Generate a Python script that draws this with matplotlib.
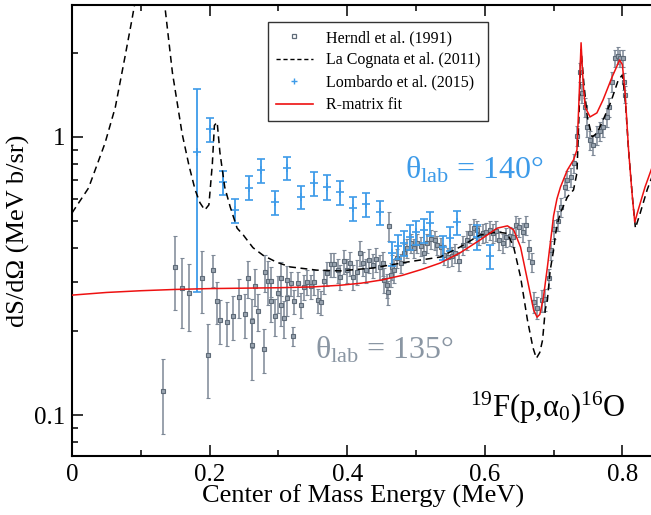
import matplotlib
matplotlib.use("Agg")
import matplotlib.pyplot as plt
import numpy as np
from matplotlib.ticker import FixedLocator, FuncFormatter, MultipleLocator
from matplotlib.lines import Line2D

plt.rcParams['font.family'] = ['Liberation Serif', 'DejaVu Serif']
plt.rcParams['mathtext.fontset'] = 'custom'
plt.rcParams['mathtext.rm'] = 'Liberation Serif'
plt.rcParams['mathtext.it'] = 'Liberation Serif:italic'

# ---------------- data ----------------
herndl_E = [0.133, 0.150, 0.160, 0.170, 0.189, 0.198, 0.205, 0.211, 0.215, 0.225,
            0.234, 0.243, 0.252, 0.256, 0.262, 0.262, 0.266, 0.271, 0.279, 0.281,
            0.285, 0.289, 0.289, 0.295, 0.300, 0.304, 0.304, 0.308, 0.313, 0.313,
            0.318, 0.321, 0.323, 0.328, 0.333, 0.337, 0.342, 0.347, 0.352, 0.357,
            0.362, 0.367, 0.371, 0.376, 0.381, 0.386, 0.390, 0.396, 0.400, 0.404,
            0.409, 0.414, 0.419, 0.423, 0.428, 0.432, 0.437, 0.442, 0.447, 0.452,
            0.454, 0.458, 0.460, 0.461, 0.463, 0.465, 0.468, 0.473, 0.478, 0.483,
            0.487, 0.493, 0.497, 0.502, 0.508, 0.512, 0.516, 0.522, 0.527, 0.531,
            0.537, 0.541, 0.546, 0.553, 0.557, 0.563, 0.569, 0.574, 0.578, 0.584,
            0.589, 0.592, 0.598, 0.602, 0.607, 0.612, 0.617, 0.621, 0.627, 0.631,
            0.636, 0.641, 0.646, 0.650, 0.656, 0.660, 0.664, 0.669, 0.672, 0.676,
            0.683, 0.688, 0.693, 0.697, 0.701, 0.706, 0.711, 0.716, 0.720, 0.725,
            0.729, 0.734, 0.738, 0.741, 0.745, 0.749, 0.753, 0.758, 0.763, 0.768,
            0.772, 0.777, 0.780, 0.785, 0.790, 0.793, 0.797, 0.801, 0.803, 0.804]
herndl_val = [0.122, 0.340, 0.286, 0.275, 0.311, 0.164, 0.332, 0.257, 0.219, 0.216,
              0.227, 0.266, 0.231, 0.311, 0.179, 0.218, 0.291, 0.237, 0.173, 0.327,
              0.303, 0.303, 0.257, 0.227, 0.275, 0.311, 0.249, 0.223, 0.306, 0.264,
              0.298, 0.192, 0.257, 0.298, 0.249, 0.289, 0.301, 0.291, 0.301, 0.259,
              0.255, 0.303, 0.324, 0.349, 0.349, 0.332, 0.314, 0.358, 0.332, 0.352,
              0.314, 0.327, 0.383, 0.352, 0.332, 0.361, 0.346, 0.364, 0.341, 0.352,
              0.306, 0.293, 0.277, 0.479, 0.320, 0.341, 0.332, 0.367, 0.352, 0.383,
              0.399, 0.416, 0.399, 0.416, 0.405, 0.383, 0.416, 0.430, 0.426, 0.409,
              0.402, 0.377, 0.370, 0.373, 0.383, 0.358, 0.409, 0.426, 0.450, 0.470,
              0.463, 0.444, 0.450, 0.455, 0.463, 0.450, 0.460, 0.426, 0.416, 0.437,
              0.440, 0.437, 0.482, 0.474, 0.455, 0.482, 0.395, 0.355, 0.255, 0.243,
              0.259, 0.261, 0.311, 0.392, 0.466, 0.500, 0.560, 0.661, 0.700, 0.718,
              0.806, 1.010, 1.710, 1.440, 1.280, 1.090, 0.976, 0.936, 1.017, 1.051,
              1.086, 1.180, 1.280, 1.580, 1.920, 1.960, 1.920, 1.920, 1.580, 1.420]
herndl_relerr = [0.30, 0.30, 0.28, 0.27, 0.25, 0.30, 0.13, 0.17, 0.18, 0.18,
                 0.18, 0.16, 0.18, 0.15, 0.25, 0.20, 0.15, 0.15, 0.18, 0.15,
                 0.18, 0.12, 0.16, 0.15, 0.15, 0.14, 0.16, 0.15, 0.12, 0.14,
                 0.10, 0.08, 0.10, 0.10, 0.10, 0.10, 0.10, 0.10, 0.10, 0.10,
                 0.10, 0.10, 0.10, 0.10, 0.10, 0.10, 0.10, 0.10, 0.10, 0.10,
                 0.10, 0.10, 0.10, 0.10, 0.10, 0.10, 0.10, 0.10, 0.10, 0.10,
                 0.10, 0.10, 0.10, 0.12, 0.10, 0.10, 0.10, 0.08, 0.08, 0.08,
                 0.08, 0.08, 0.08, 0.08, 0.08, 0.08, 0.08, 0.08, 0.08, 0.08,
                 0.08, 0.08, 0.08, 0.08, 0.08, 0.08, 0.08, 0.08, 0.08, 0.08,
                 0.08, 0.08, 0.08, 0.08, 0.08, 0.08, 0.08, 0.08, 0.08, 0.08,
                 0.08, 0.08, 0.08, 0.08, 0.08, 0.08, 0.08, 0.08, 0.09, 0.09,
                 0.09, 0.09, 0.08, 0.08, 0.08, 0.08, 0.08, 0.08, 0.08, 0.08,
                 0.08, 0.08, 0.08, 0.08, 0.08, 0.08, 0.08, 0.08, 0.08, 0.08,
                 0.08, 0.08, 0.08, 0.08, 0.07, 0.07, 0.07, 0.07, 0.07, 0.07]

lomb_E = [0.182, 0.200, 0.220, 0.237, 0.257, 0.275, 0.295, 0.313, 0.333, 0.352,
          0.371, 0.390, 0.409, 0.428, 0.447, 0.465, 0.474, 0.483, 0.492, 0.500,
          0.512, 0.520, 0.540, 0.550, 0.560, 0.588, 0.607]
lomb_val = [0.880, 1.070, 0.690, 0.546, 0.655, 0.761, 0.583, 0.774, 0.608, 0.683,
            0.661, 0.634, 0.555, 0.574, 0.537, 0.382, 0.405, 0.416, 0.437, 0.455,
            0.463, 0.490, 0.402, 0.433, 0.494, 0.437, 0.373]
lomb_lo = [0.277, 0.960, 0.618, 0.490, 0.593, 0.683, 0.525, 0.700, 0.550, 0.615,
           0.595, 0.571, 0.500, 0.517, 0.483, 0.344, 0.365, 0.374, 0.393, 0.410,
           0.417, 0.441, 0.362, 0.390, 0.445, 0.393, 0.336]
lomb_hi = [1.490, 1.170, 0.755, 0.598, 0.724, 0.834, 0.640, 0.850, 0.668, 0.750,
           0.727, 0.697, 0.610, 0.631, 0.590, 0.420, 0.445, 0.458, 0.481, 0.500,
           0.509, 0.539, 0.442, 0.476, 0.543, 0.481, 0.410]

lacog_E = [0.000, 0.024, 0.048, 0.063, 0.077, 0.087, 0.094, 0.100, 0.113, 0.126,
           0.134, 0.146, 0.160, 0.170, 0.179, 0.186, 0.193, 0.199, 0.204, 0.207,
           0.211, 0.215, 0.222, 0.230, 0.240, 0.249, 0.263, 0.278, 0.297, 0.317,
           0.356, 0.390, 0.438, 0.487, 0.535, 0.564, 0.593, 0.618, 0.633, 0.642,
           0.652, 0.662, 0.670, 0.675, 0.680, 0.684, 0.688, 0.691, 0.695, 0.700,
           0.703, 0.707, 0.710, 0.720, 0.729, 0.734, 0.737, 0.740, 0.744, 0.749,
           0.756, 0.763, 0.772, 0.783, 0.794, 0.800, 0.804, 0.809, 0.815, 0.819,
           0.826, 0.836, 0.845]
lacog_val = [0.533, 0.655, 0.950, 1.280, 1.940, 2.630, 3.300, 4.500, 6.000, 4.200,
             3.100, 1.700, 1.030, 0.790, 0.645, 0.580, 0.546, 0.570, 0.800, 1.100,
             1.130, 0.880, 0.660, 0.560, 0.470, 0.444, 0.400, 0.375, 0.355, 0.341,
             0.332, 0.330, 0.338, 0.355, 0.370, 0.402, 0.444, 0.455, 0.450, 0.402,
             0.314, 0.220, 0.175, 0.160, 0.168, 0.186, 0.240, 0.259, 0.330, 0.392,
             0.450, 0.503, 0.533, 0.608, 0.645, 0.742, 1.200, 2.060, 1.560, 1.180,
             1.000, 1.030, 1.150, 1.330, 1.600, 1.670, 1.390, 0.898, 0.593, 0.470,
             0.533, 0.645, 0.740]

rmat_E = [0.000, 0.050, 0.100, 0.150, 0.200, 0.250, 0.300, 0.350, 0.390, 0.420,
          0.450, 0.480, 0.510, 0.535, 0.564, 0.593, 0.618, 0.633, 0.642, 0.652,
          0.662, 0.671, 0.676, 0.680, 0.685, 0.691, 0.697, 0.700, 0.705, 0.710,
          0.720, 0.729, 0.734, 0.737, 0.740, 0.743, 0.746, 0.753, 0.763, 0.772,
          0.785, 0.796, 0.800, 0.804, 0.809, 0.814, 0.818, 0.823, 0.833, 0.845]
rmat_val = [0.270, 0.276, 0.280, 0.283, 0.285, 0.286, 0.287, 0.289, 0.293, 0.298,
            0.306, 0.318, 0.335, 0.352, 0.383, 0.426, 0.470, 0.479, 0.463, 0.402,
            0.306, 0.239, 0.225, 0.230, 0.262, 0.340, 0.450, 0.520, 0.600, 0.660,
            0.760, 0.827, 0.898, 1.360, 2.180, 1.560, 1.280, 1.180, 1.220, 1.360,
            1.640, 1.890, 1.820, 1.440, 0.900, 0.630, 0.494, 0.546, 0.661, 0.800]

# ---------------- figure ----------------
fig = plt.figure(figsize=(6.51, 5.15), dpi=100)
ax = fig.add_axes([72/651, 1 - 456/515, (654 - 72)/651, (456 - 5)/515])
ax.set_yscale('log')

gray_edge = '#5f6b78'
gray_err = '#7d8896'
gray_fill = '#9aa5b1'
blue = '#3d9be9'

hE = np.array(herndl_E)
hv = np.array(herndl_val)
he = hv * np.array(herndl_relerr)
ax.errorbar(hE, hv, yerr=he, fmt='s', ms=3.4, mfc=gray_fill, mec=gray_edge, mew=0.8,
            ecolor=gray_err, elinewidth=1.1, capsize=1.6, capthick=1.0, zorder=2)

lE = np.array(lomb_E)
lv = np.array(lomb_val)
lerr = np.vstack([lv - np.array(lomb_lo), np.array(lomb_hi) - lv])
ax.errorbar(lE, lv, yerr=lerr, fmt='+', ms=6, mew=1.2, color=blue,
            ecolor=blue, elinewidth=1.3, capsize=3.2, capthick=1.3, zorder=3)

ax.plot(lacog_E, lacog_val, color='black', ls=(0, (4.5, 3)), lw=1.1, zorder=4)
ax.plot(rmat_E, rmat_val, color='#ee1111', lw=1.1, zorder=5)

ax.set_xlim(0, 0.846)
ax.set_ylim(0.0713, 2.98)

ax.xaxis.set_major_locator(MultipleLocator(0.2))
ax.xaxis.set_minor_locator(MultipleLocator(0.1))
ax.xaxis.set_major_formatter(FuncFormatter(lambda v, p: '0' if abs(v) < 1e-9 else f'{v:.1f}'))
ax.yaxis.set_major_locator(FixedLocator([0.1, 1.0]))
ax.yaxis.set_minor_locator(FixedLocator([0.08, 0.09, 0.2, 0.3, 0.4, 0.5, 0.6, 0.7, 0.8, 0.9, 2, 3]))
ax.yaxis.set_major_formatter(FuncFormatter(lambda v, p: '1' if abs(v - 1) < 1e-6 else '0.1'))
ax.yaxis.set_minor_formatter(FuncFormatter(lambda v, p: ''))

ax.tick_params(which='both', direction='in', top=True, right=False, labelsize=18, width=1.1)
ax.tick_params(which='major', length=8)
ax.tick_params(axis='x', which='major', pad=6)
ax.tick_params(axis='y', which='major', pad=5)
ax.tick_params(which='minor', length=4.5)
for s in ['left', 'bottom', 'top']:
    ax.spines[s].set_linewidth(1.5)
ax.spines['right'].set_visible(False)

ax.set_xlabel('Center of Mass Energy (MeV)', fontsize=19, labelpad=-1)
ax.set_ylabel('dS/dΩ (MeV b/sr)', fontsize=19, labelpad=3)

ax.text((475 - 72) / 582, (456 - 170) / 451, r'$\mathrm{θ}_{\mathrm{lab}}$ = 140°',
        transform=ax.transAxes, color=blue, fontsize=23, ha='center', va='center')
ax.text((385 - 72) / 582, (456 - 350) / 451, r'$\mathrm{θ}_{\mathrm{lab}}$ = 135°',
        transform=ax.transAxes, color='#8a96a3', fontsize=23, ha='center', va='center')
ax.text((548 - 72) / 582, (456 - 408) / 451, r'$^{19}$F(p,$\mathrm{α}_0$)$^{16}$O',
        transform=ax.transAxes, color='black', fontsize=22, ha='center', va='center')

handles = [
    Line2D([], [], ls='none', marker='s', ms=3, mfc='white', mec=gray_edge, mew=0.9),
    Line2D([], [], color='black', ls=(0, (3, 2)), lw=1.0),
    Line2D([], [], ls='none', marker='+', ms=5, mew=1.0, color=blue),
    Line2D([], [], color='#ee1111', lw=1.2),
]
labels = ['Herndl et al. (1991)', 'La Cognata et al. (2011)', 'Lombardo et al. (2015)', 'R-matrix fit']
leg = ax.legend(handles, labels, loc='upper left',
                bbox_to_anchor=((268 - 72) / 582, (456 - 22) / 451),
                fontsize=11.5, frameon=True, fancybox=False, edgecolor='black',
                handlelength=2.3, handletextpad=0.8, borderpad=0.5, labelspacing=0.4,
                borderaxespad=0)
leg.get_frame().set_linewidth(1.0)

fig.savefig('out.png', dpi=100)
